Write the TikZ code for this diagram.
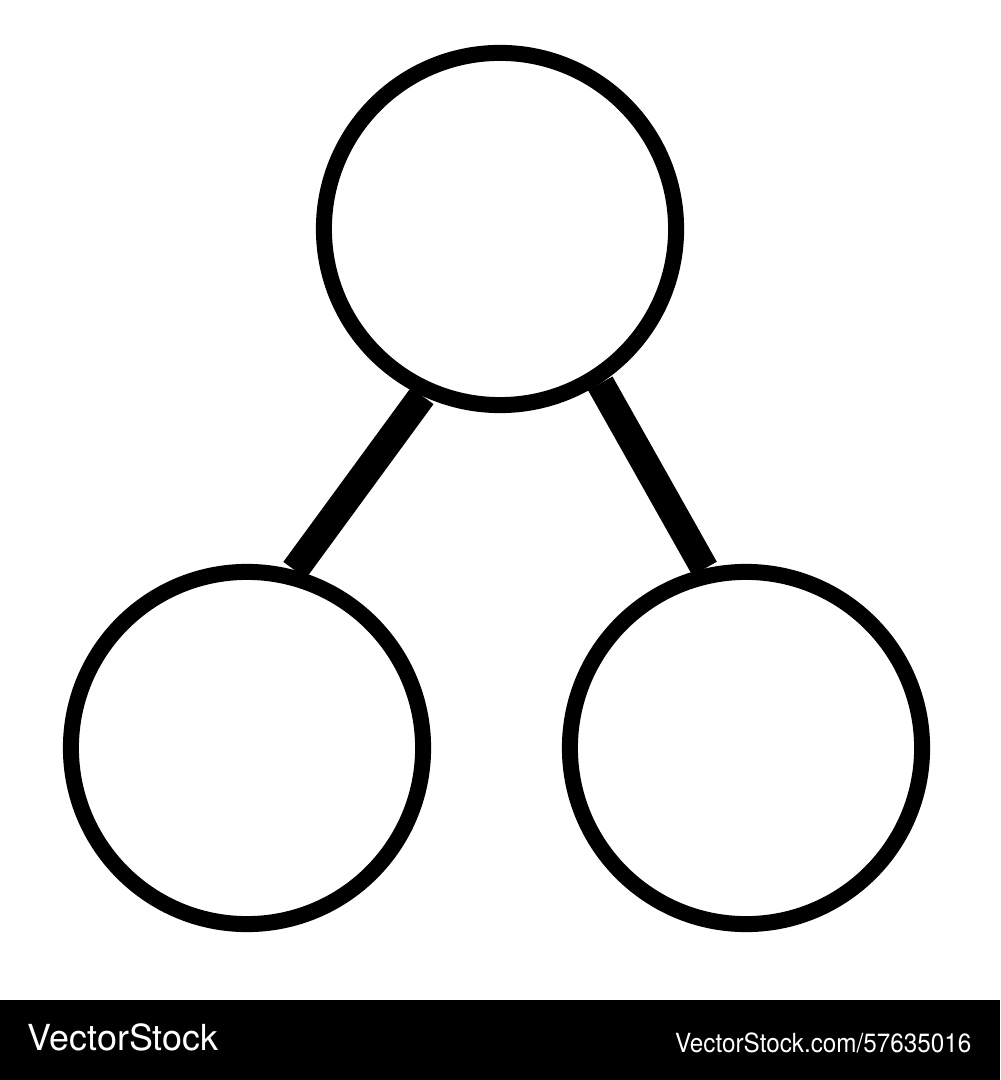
\documentclass[tikz,border=0pt]{standalone}
\usepackage{fontspec}
\setmainfont{TeX Gyre Heros}
\begin{document}
\begin{tikzpicture}[x=0.01cm,y=-0.01cm]
		\tikzstyle{ring} = [draw,fill=white,shape=circle,line width=0.16cm,minimum size=3.52cm,inner sep=0pt]
		\tikzstyle{link} = [line width=0.28cm]
		\tikzstyle{stamp} = [white,inner sep=0pt]
		\useasboundingbox (0,0) rectangle (1000,1080);

		\foreach \n / \x / \y in {top/500/229,left/247/748,right/746/748} { \node[ring] (\n) at (\x,\y) {}; }

		\draw[link] (top.245) -- (left.75);
		\draw[link] (top.303) -- (right.103);

		% watermark bar
		\fill (0,1000) rectangle (1000,1080);
		\node[stamp,anchor=base west,font=\fontsize{10.2}{12}\selectfont] (logo) at (27,1050) {VectorStock};
		\node[stamp,anchor=base east,font=\fontsize{7.5}{9}\selectfont,transform shape,xscale=0.92] (ref) at (972,1052) {VectorStock.com/57635016};
	\end{tikzpicture}
\end{document}
